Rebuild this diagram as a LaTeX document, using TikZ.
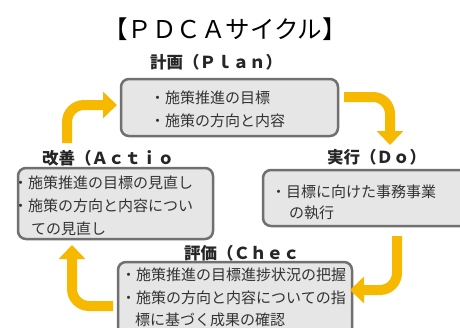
\documentclass[tikz,border=0pt]{standalone}
\usepackage{fontspec}
\setmainfont{Noto Sans CJK JP}
\usetikzlibrary{arrows.meta}
\definecolor{boxfill}{HTML}{E6E6E6}
\definecolor{boxline}{HTML}{707070}
\definecolor{arrowc}{HTML}{F7B800}
\definecolor{txt}{HTML}{333333}
\tikzset{
  pbox/.style={draw=boxline, fill=boxfill, line width=2.5pt, rounded corners=8pt},
  btext/.style={anchor=west, inner sep=0pt, font=\fontsize{15}{15}\selectfont, text=txt},
  head/.style={anchor=west, inner sep=0pt, font=\fontsize{16.5}{16.5}\selectfont\bfseries, text=black!85},
  cyc/.style={draw=arrowc, line width=10pt, rounded corners=17pt,
    -{Triangle[width=26pt,length=14pt]}, arrowc},
}
\begin{document}
\begin{tikzpicture}[x=1pt,y=-1pt]
\useasboundingbox (0,0) rectangle (460,327);
\clip (0,0) rectangle (460,327);
\fill[white] (0,0) rectangle (460,327);
% title
\node[inner sep=0pt, font=\fontsize{24.5}{24.5}\selectfont, text=black] (title) at (225,29) {【ＰＤＣＡサイクル】};
% boxes
\draw[pbox] (121,79) rectangle (338,136);
\draw[pbox] (18,168) rectangle (213,239);
\draw[pbox] (263,170) rectangle (475,226);
\draw[pbox] (118,262) rectangle (352,340);
% headings
\node[head] (hplan) at (150,62) {計画（Ｐｌａｎ）};
\node[head] (hact) at (42,158) {改善（Ａｃｔｉｏ};
\node[head] (hdo) at (327,157) {実行（Ｄｏ）};
\node[head] (hchk) at (184,253) {評価（Ｃｈｅｃ};
% texts
\node[btext] (p1) at (150,98) {・施策推進の目標};
\node[btext] (p2) at (150,121) {・施策の方向と内容};
\node[btext] (a1) at (13,183) {・施策推進の目標の見直し};
\node[btext] (a2) at (13,206) {・施策の方向と内容につい};
\node[btext] (a3) at (31,229) {ての見直し};
\node[btext] (d1) at (271,192) {・目標に向けた事務事業};
\node[btext] (d2) at (289,213) {の執行};
\node[btext] (c1) at (121,275) {・施策推進の目標進捗状況の把握};
\node[btext] (c2) at (121,298) {・施策の方向と内容についての指};
\node[btext] (c3) at (135,320) {標に基づく成果の確認};
% arrows
\coordinate (a1s) at (67,143);
\coordinate (a1e) at (117,105);
\coordinate (a2s) at (344,97);
\coordinate (a2e) at (390,145);
\coordinate (a3s) at (397,236);
\coordinate (a3e) at (350,290);
\coordinate (a4s) at (113,306);
\coordinate (a4e) at (72,245);
\draw[cyc] (a1s) |- (a1e);
\draw[cyc] (a2s) -| (a2e);
\draw[cyc] (a3s) |- (a3e);
\draw[cyc] (a4s) -| (a4e);
\end{tikzpicture}
\end{document}
